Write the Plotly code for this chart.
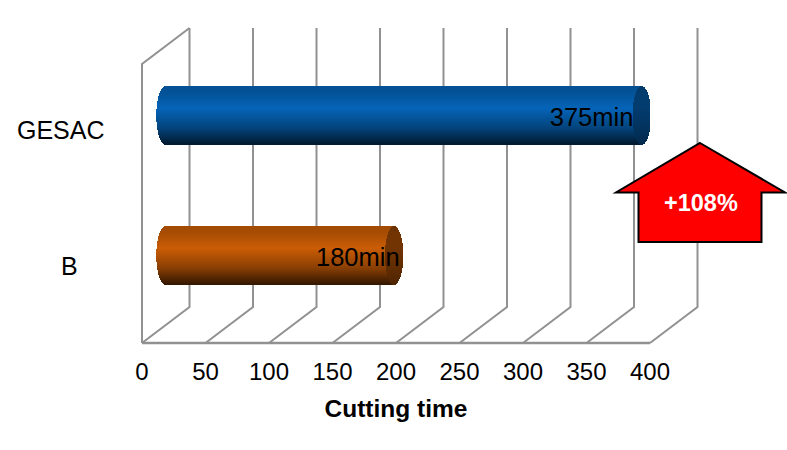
import numpy as np
import plotly.graph_objects as go

categories = ["B", "GESAC"]
cut_minutes = [180, 375]
value_labels = ["180min", "375min"]
tick_values = [0, 50, 100, 150, 200, 250, 300, 350, 400]
axis_title = "Cutting time"
arrow_label = "+108%"

W, H = 787, 450
AX_L, AX_R, AX_T, AX_B = 142, 650, 64, 343   # pixel box of the front plane
PX_X = (AX_R - AX_L) / 400.0                 # pixels per minute
PX_Y = (AX_B - AX_T) / 2.0                   # pixels per category
DEPTH_X = 47.5 / PX_X                        # 3D wall depth, in axis units
DEPTH_Y = 36.0 / PX_Y
GRID = "#919191"
FONT = "Liberation Sans, Arial, sans-serif"

def px(xv, yv):
    return xv / W, 1 - yv / H

# ---- 3D wall and floor lines (full-canvas axis pair, drawn first)
gx, gy = [], []
for t in tick_values:
    gx += [t, t + DEPTH_X, t + DEPTH_X, None]
    gy += [-0.5, -0.5 + DEPTH_Y, 1.5 + DEPTH_Y, None]
wall_x = [0, 0, DEPTH_X]
wall_y = [-0.5, 1.5, 1.5 + DEPTH_Y]
base_x = [0, 400]
base_y = [-0.5, -0.5]

traces = [
    go.Scatter(x=gx, y=gy, mode="lines", line=dict(color=GRID, width=2),
               hoverinfo="skip", showlegend=False, xaxis="x", yaxis="y"),
    go.Scatter(x=wall_x, y=wall_y, mode="lines", line=dict(color=GRID, width=2),
               hoverinfo="skip", showlegend=False, xaxis="x", yaxis="y"),
    go.Scatter(x=base_x, y=base_y, mode="lines", line=dict(color=GRID, width=2.5),
               hoverinfo="skip", showlegend=False, xaxis="x", yaxis="y"),
]

# ---- cylinders built of thin horizontal bars, through the axis scale
def shade(rgb, f):
    return "rgb(%d,%d,%d)" % tuple(int(round(c * f)) for c in rgb)

STOPS_T = [0.0, 0.12, 0.38, 0.72, 1.0]
STOPS_F = [0.80, 0.82, 1.0, 0.68, 0.26]
BASE = {"B": (203, 93, 5), "GESAC": (5, 100, 184)}
CAP = {"B": 0.56, "GESAC": 0.60}
ROWS = 58
ELL_A = 9.2 / PX_X
BAR_SHIFT_X = 23.5 / PX_X
BAR_SHIFT_Y = 18.0 / PX_Y
HALF = 0.5 * ROWS / PX_Y

for i, (cat, val) in enumerate(zip(categories, cut_minutes)):
    rows = (np.arange(ROWS) + 0.5) / ROWS           # 0 = top, 1 = bottom
    ys = i + BAR_SHIFT_Y + HALF * (1 - 2 * rows)
    ell = ELL_A * np.sqrt(np.clip(1 - (2 * rows - 1) ** 2, 0, 1))
    f = np.interp(rows, STOPS_T, STOPS_F)
    left = BAR_SHIFT_X - ell
    right = BAR_SHIFT_X + val
    traces.append(go.Bar(
        y=ys, x=right - left, base=left, orientation="h", width=1.15 / PX_Y,
        marker=dict(color=[shade(BASE[cat], v) for v in f], line=dict(width=0)),
        cliponaxis=False, hoverinfo="skip", showlegend=False, xaxis="x2", yaxis="y2"))
    cap_f = np.interp(rows, STOPS_T, [0.95, 1.0, 1.0, 0.85, 0.7]) * CAP[cat]
    traces.append(go.Bar(
        y=ys, x=2 * ell, base=right - ell, orientation="h", width=1.15 / PX_Y,
        marker=dict(color=[shade(BASE[cat], v) for v in cap_f], line=dict(width=0)),
        cliponaxis=False, hoverinfo="skip", showlegend=False, xaxis="x2", yaxis="y2"))

# ---- value labels
traces.append(go.Scatter(
    x=[v * 0.944 for v in cut_minutes],
    y=[i + BAR_SHIFT_Y - 0.03 for i in range(len(categories))],
    mode="text", text=value_labels, textposition="middle center",
    textfont=dict(family=FONT, size=25.5, color="#000000"),
    cliponaxis=False, hoverinfo="skip", showlegend=False, xaxis="x2", yaxis="y2"))

fig = go.Figure(traces)

# ---- arrow
arrow_px = [(700, 143), (785, 192.5), (761.5, 192.5), (761.5, 242),
            (638.5, 242), (638.5, 192.5), (616, 192.5)]
path = "M " + " L ".join("%.4f,%.4f" % px(*p) for p in arrow_px) + " Z"
fig.add_shape(type="path", path=path, xref="paper", yref="paper", layer="above",
              fillcolor="#ff0000", line=dict(color="#000000", width=2))

ax, ay = px(700.5, 203)
annots = [dict(x=ax, y=ay, xref="paper", yref="paper", text=arrow_label, showarrow=False,
               font=dict(family=FONT, size=23.5, color="#ffffff", weight="bold"),
               xanchor="center", yanchor="middle")]
for cat, (lx, ly) in zip(categories, [(69.5, 266), (61, 130)]):
    cx, cy = px(lx, ly)
    annots.append(dict(x=cx, y=cy, xref="paper", yref="paper", text=cat, showarrow=False,
                       font=dict(family=FONT, size=25, color="#000000"),
                       xanchor="center", yanchor="middle"))

fig.update_layout(
    width=W, height=H, autosize=False,
    margin=dict(l=0, r=0, t=0, b=0, pad=0, autoexpand=False),
    paper_bgcolor="#ffffff", plot_bgcolor="rgba(0,0,0,0)",
    barmode="overlay", bargap=0, showlegend=False,
    annotations=annots,
    # full-canvas pair for the wall lines, same scale as the front plane
    xaxis=dict(domain=[0, 1], range=[-AX_L / PX_X, (W - AX_L) / PX_X], visible=False,
               fixedrange=True),
    yaxis=dict(domain=[0, 1], range=[-0.5 - (H - AX_B) / PX_Y, -0.5 + AX_B / PX_Y],
               visible=False, fixedrange=True),
    # front-plane pair: the real tick axis and the bars
    xaxis2=dict(domain=[AX_L / W, AX_R / W], range=[0, 400], anchor="y2",
                tickvals=tick_values, showgrid=False, zeroline=False,
                showline=False, ticks="outside", ticklen=7, tickcolor="rgba(0,0,0,0)",
                tickfont=dict(family=FONT, size=24, color="#000000"),
                title=dict(text=axis_title, standoff=16,
                           font=dict(family=FONT, size=24.5, color="#000000", weight="bold"))),
    yaxis2=dict(domain=[1 - AX_B / H, 1 - AX_T / H], range=[-0.5, 1.5], anchor="x2",
                visible=False, fixedrange=True),
)
fig.write_html("out.html", config=dict(displayModeBar=False),
               post_script="document.body.style.margin='0';")
